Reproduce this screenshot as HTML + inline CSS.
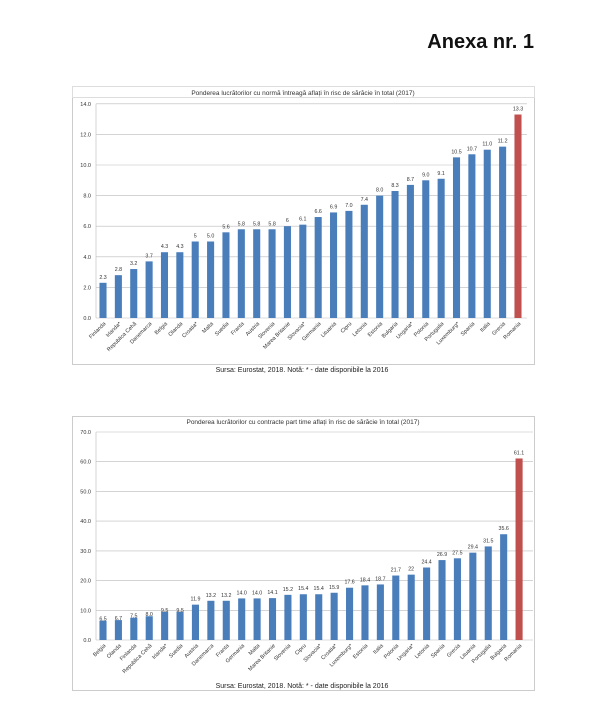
<!DOCTYPE html><html><head><meta charset="utf-8"><style>
body{margin:0;background:#fff;width:610px;height:708px;overflow:hidden}
svg{font-family:"Liberation Sans",sans-serif}
</style></head><body>
<svg width="610" height="708" viewBox="0 0 610 708">
<text x="534" y="48" text-anchor="end" font-size="20" font-weight="bold" fill="#111">Anexa nr. 1</text>
<!-- TOP -->
<rect x="72.5" y="86.5" width="462" height="278" fill="none" stroke="#ccc"/>
<rect x="72.5" y="86.5" width="462" height="11" fill="none" stroke="#ddd"/>
<text x="303" y="95" text-anchor="middle" font-size="6.5" fill="#333">Ponderea lucrătorilor cu normă întreagă aflați în risc de sărăcie în total (2017)</text>
<g stroke="#bbb" stroke-width="0.6">
<line x1="96" x2="527" y1="318" y2="318"/><line x1="96" x2="527" y1="287.4" y2="287.4"/><line x1="96" x2="527" y1="256.8" y2="256.8"/><line x1="96" x2="527" y1="226.2" y2="226.2"/><line x1="96" x2="527" y1="195.6" y2="195.6"/><line x1="96" x2="527" y1="165" y2="165"/><line x1="96" x2="527" y1="134.4" y2="134.4"/><line x1="96" x2="527" y1="103.8" y2="103.8"/><line x1="96" x2="96" y1="103.8" y2="318"/></g>
<g font-size="5.5" fill="#333" text-anchor="end">
<text x="91" y="320">0.0</text><text x="91" y="289.4">2.0</text><text x="91" y="258.8">4.0</text><text x="91" y="228.2">6.0</text><text x="91" y="197.6">8.0</text><text x="91" y="167">10.0</text><text x="91" y="136.4">12.0</text><text x="91" y="105.8">14.0</text></g>
<g transform="matrix(15.37 0 0 -15.3 103 318)" fill="#4a7ebb">
<rect x="-0.23" width="0.46" height="2.3"/><rect x="0.77" width="0.46" height="2.8"/><rect x="1.77" width="0.46" height="3.2"/><rect x="2.77" width="0.46" height="3.7"/><rect x="3.77" width="0.46" height="4.3"/><rect x="4.77" width="0.46" height="4.3"/><rect x="5.77" width="0.46" height="5"/><rect x="6.77" width="0.46" height="5"/><rect x="7.77" width="0.46" height="5.6"/><rect x="8.77" width="0.46" height="5.8"/><rect x="9.77" width="0.46" height="5.8"/><rect x="10.77" width="0.46" height="5.8"/><rect x="11.77" width="0.46" height="6"/><rect x="12.77" width="0.46" height="6.1"/><rect x="13.77" width="0.46" height="6.6"/><rect x="14.77" width="0.46" height="6.9"/><rect x="15.77" width="0.46" height="7"/><rect x="16.77" width="0.46" height="7.4"/><rect x="17.77" width="0.46" height="8"/><rect x="18.77" width="0.46" height="8.3"/><rect x="19.77" width="0.46" height="8.7"/><rect x="20.77" width="0.46" height="9"/><rect x="21.77" width="0.46" height="9.1"/><rect x="22.77" width="0.46" height="10.5"/><rect x="23.77" width="0.46" height="10.7"/><rect x="24.77" width="0.46" height="11"/><rect x="25.77" width="0.46" height="11.2"/><rect x="26.77" width="0.46" height="13.3" fill="#c0504d"/></g>
<g font-size="5.3" fill="#333" text-anchor="middle">
<text x="103" y="279">2.3</text><text x="118.4" y="271">2.8</text><text x="133.7" y="265">3.2</text><text x="149.1" y="257.4">3.7</text><text x="164.5" y="248.2">4.3</text><text x="179.9" y="248.2">4.3</text><text x="195.2" y="237.5">5</text><text x="210.6" y="237.5">5.0</text><text x="226" y="228.3">5.6</text><text x="241.3" y="225.3">5.8</text><text x="256.7" y="225.3">5.8</text><text x="272.1" y="225.3">5.8</text><text x="287.4" y="222.2">6</text><text x="302.8" y="220.7">6.1</text><text x="318.2" y="213">6.6</text><text x="333.6" y="208.4">6.9</text><text x="348.9" y="206.9">7.0</text><text x="364.3" y="200.8">7.4</text><text x="379.7" y="191.6">8.0</text><text x="395" y="187">8.3</text><text x="410.4" y="180.9">8.7</text><text x="425.8" y="176.3">9.0</text><text x="441.1" y="174.8">9.1</text><text x="456.5" y="153.3">10.5</text><text x="471.9" y="150.3">10.7</text><text x="487.3" y="145.7">11.0</text><text x="502.6" y="142.6">11.2</text><text x="518" y="110.5">13.3</text></g>
<g font-size="5.5" fill="#333" text-anchor="end">
<text transform="translate(106,324) rotate(-45)">Finlanda</text><text transform="translate(121.4,324) rotate(-45)">Irlanda*</text><text transform="translate(136.7,324) rotate(-45)">Republica Cehă</text><text transform="translate(152.1,324) rotate(-45)">Danemarca</text><text transform="translate(167.5,324) rotate(-45)">Belgia</text><text transform="translate(182.9,324) rotate(-45)">Olanda</text><text transform="translate(198.2,324) rotate(-45)">Croatia*</text><text transform="translate(213.6,324) rotate(-45)">Malta</text><text transform="translate(229,324) rotate(-45)">Suedia</text><text transform="translate(244.3,324) rotate(-45)">Franta</text><text transform="translate(259.7,324) rotate(-45)">Austria</text><text transform="translate(275.1,324) rotate(-45)">Slovenia</text><text transform="translate(290.4,324) rotate(-45)">Marea Britanie</text><text transform="translate(305.8,324) rotate(-45)">Slovacia*</text><text transform="translate(321.2,324) rotate(-45)">Germania</text><text transform="translate(336.6,324) rotate(-45)">Lituania</text><text transform="translate(351.9,324) rotate(-45)">Cipru</text><text transform="translate(367.3,324) rotate(-45)">Letonia</text><text transform="translate(382.7,324) rotate(-45)">Estonia</text><text transform="translate(398,324) rotate(-45)">Bulgaria</text><text transform="translate(413.4,324) rotate(-45)">Ungaria*</text><text transform="translate(428.8,324) rotate(-45)">Polonia</text><text transform="translate(444.1,324) rotate(-45)">Portugalia</text><text transform="translate(459.5,324) rotate(-45)">Luxemburg*</text><text transform="translate(474.9,324) rotate(-45)">Spania</text><text transform="translate(490.3,324) rotate(-45)">Italia</text><text transform="translate(505.6,324) rotate(-45)">Grecia</text><text transform="translate(521,324) rotate(-45)">Romania</text></g>
<text x="302" y="372" text-anchor="middle" font-size="7" fill="#222">Sursa: Eurostat, 2018. Notă: * - date disponibile la 2016</text>
<!-- BOTTOM -->
<rect x="72.5" y="416.5" width="462" height="274" fill="none" stroke="#ccc"/>
<text x="303" y="424" text-anchor="middle" font-size="6.5" fill="#333">Ponderea lucrătorilor cu contracte part time aflați în risc de sărăcie în total (2017)</text>
<g stroke="#bbb" stroke-width="0.6">
<line x1="96" x2="533" y1="640" y2="640"/><line x1="96" x2="533" y1="610.3" y2="610.3"/><line x1="96" x2="533" y1="580.6" y2="580.6"/><line x1="96" x2="533" y1="550.9" y2="550.9"/><line x1="96" x2="533" y1="521.1" y2="521.1"/><line x1="96" x2="533" y1="491.4" y2="491.4"/><line x1="96" x2="533" y1="461.7" y2="461.7"/><line x1="96" x2="533" y1="432" y2="432"/><line x1="96" x2="96" y1="432" y2="640"/></g>
<g font-size="5.5" fill="#333" text-anchor="end">
<text x="91" y="642">0.0</text><text x="91" y="612.3">10.0</text><text x="91" y="582.6">20.0</text><text x="91" y="552.9">30.0</text><text x="91" y="523.1">40.0</text><text x="91" y="493.4">50.0</text><text x="91" y="463.7">60.0</text><text x="91" y="434">70.0</text></g>
<g transform="matrix(15.41 0 0 -2.971 103 640)" fill="#4a7ebb">
<rect x="-0.23" width="0.46" height="6.5"/><rect x="0.77" width="0.46" height="6.7"/><rect x="1.77" width="0.46" height="7.5"/><rect x="2.77" width="0.46" height="8"/><rect x="3.77" width="0.46" height="9.5"/><rect x="4.77" width="0.46" height="9.5"/><rect x="5.77" width="0.46" height="11.9"/><rect x="6.77" width="0.46" height="13.2"/><rect x="7.77" width="0.46" height="13.2"/><rect x="8.77" width="0.46" height="14"/><rect x="9.77" width="0.46" height="14"/><rect x="10.77" width="0.46" height="14.1"/><rect x="11.77" width="0.46" height="15.2"/><rect x="12.77" width="0.46" height="15.4"/><rect x="13.77" width="0.46" height="15.4"/><rect x="14.77" width="0.46" height="15.9"/><rect x="15.77" width="0.46" height="17.6"/><rect x="16.77" width="0.46" height="18.4"/><rect x="17.77" width="0.46" height="18.7"/><rect x="18.77" width="0.46" height="21.7"/><rect x="19.77" width="0.46" height="22"/><rect x="20.77" width="0.46" height="24.4"/><rect x="21.77" width="0.46" height="26.9"/><rect x="22.77" width="0.46" height="27.5"/><rect x="23.77" width="0.46" height="29.4"/><rect x="24.77" width="0.46" height="31.5"/><rect x="25.77" width="0.46" height="35.6"/><rect x="26.77" width="0.46" height="61.1" fill="#c0504d"/></g>
<g font-size="5.3" fill="#333" text-anchor="middle">
<text x="103" y="620.7">6.5</text><text x="118.4" y="620.1">6.7</text><text x="133.8" y="617.7">7.5</text><text x="149.2" y="616.2">8.0</text><text x="164.6" y="611.8">9.5</text><text x="180.1" y="611.8">9.5</text><text x="195.5" y="600.6">11.9</text><text x="210.9" y="596.8">13.2</text><text x="226.3" y="596.8">13.2</text><text x="241.7" y="594.4">14.0</text><text x="257.1" y="594.4">14.0</text><text x="272.5" y="594.1">14.1</text><text x="287.9" y="590.8">15.2</text><text x="303.3" y="590.2">15.4</text><text x="318.7" y="590.2">15.4</text><text x="334.2" y="588.8">15.9</text><text x="349.6" y="583.7">17.6</text><text x="365" y="581.3">18.4</text><text x="380.4" y="580.4">18.7</text><text x="395.8" y="571.5">21.7</text><text x="411.2" y="570.6">22</text><text x="426.6" y="563.5">24.4</text><text x="442" y="556.1">26.9</text><text x="457.4" y="554.3">27.5</text><text x="472.8" y="548.7">29.4</text><text x="488.3" y="542.4">31.5</text><text x="503.7" y="530.2">35.6</text><text x="519" y="454.5">61.1</text></g>
<g font-size="5.5" fill="#333" text-anchor="end">
<text transform="translate(106,646) rotate(-45)">Belgia</text><text transform="translate(121.4,646) rotate(-45)">Olanda</text><text transform="translate(136.8,646) rotate(-45)">Finlanda</text><text transform="translate(152.2,646) rotate(-45)">Republica Cehă</text><text transform="translate(167.6,646) rotate(-45)">Irlanda*</text><text transform="translate(183.1,646) rotate(-45)">Suedia</text><text transform="translate(198.5,646) rotate(-45)">Austria</text><text transform="translate(213.9,646) rotate(-45)">Danemarca</text><text transform="translate(229.3,646) rotate(-45)">Franta</text><text transform="translate(244.7,646) rotate(-45)">Germania</text><text transform="translate(260.1,646) rotate(-45)">Malta</text><text transform="translate(275.5,646) rotate(-45)">Marea Britanie</text><text transform="translate(290.9,646) rotate(-45)">Slovenia</text><text transform="translate(306.3,646) rotate(-45)">Cipru</text><text transform="translate(321.7,646) rotate(-45)">Slovacia*</text><text transform="translate(337.2,646) rotate(-45)">Croatia*</text><text transform="translate(352.6,646) rotate(-45)">Luxemburg*</text><text transform="translate(368,646) rotate(-45)">Estonia</text><text transform="translate(383.4,646) rotate(-45)">Italia</text><text transform="translate(398.8,646) rotate(-45)">Polonia</text><text transform="translate(414.2,646) rotate(-45)">Ungaria*</text><text transform="translate(429.6,646) rotate(-45)">Letonia</text><text transform="translate(445,646) rotate(-45)">Spania</text><text transform="translate(460.4,646) rotate(-45)">Grecia</text><text transform="translate(475.8,646) rotate(-45)">Lituania</text><text transform="translate(491.3,646) rotate(-45)">Portugalia</text><text transform="translate(506.7,646) rotate(-45)">Bulgaria</text><text transform="translate(522,646) rotate(-45)">Romania</text></g>
<text x="302" y="688" text-anchor="middle" font-size="7" fill="#222">Sursa: Eurostat, 2018. Notă: * - date disponibile la 2016</text>
</svg></body></html>
